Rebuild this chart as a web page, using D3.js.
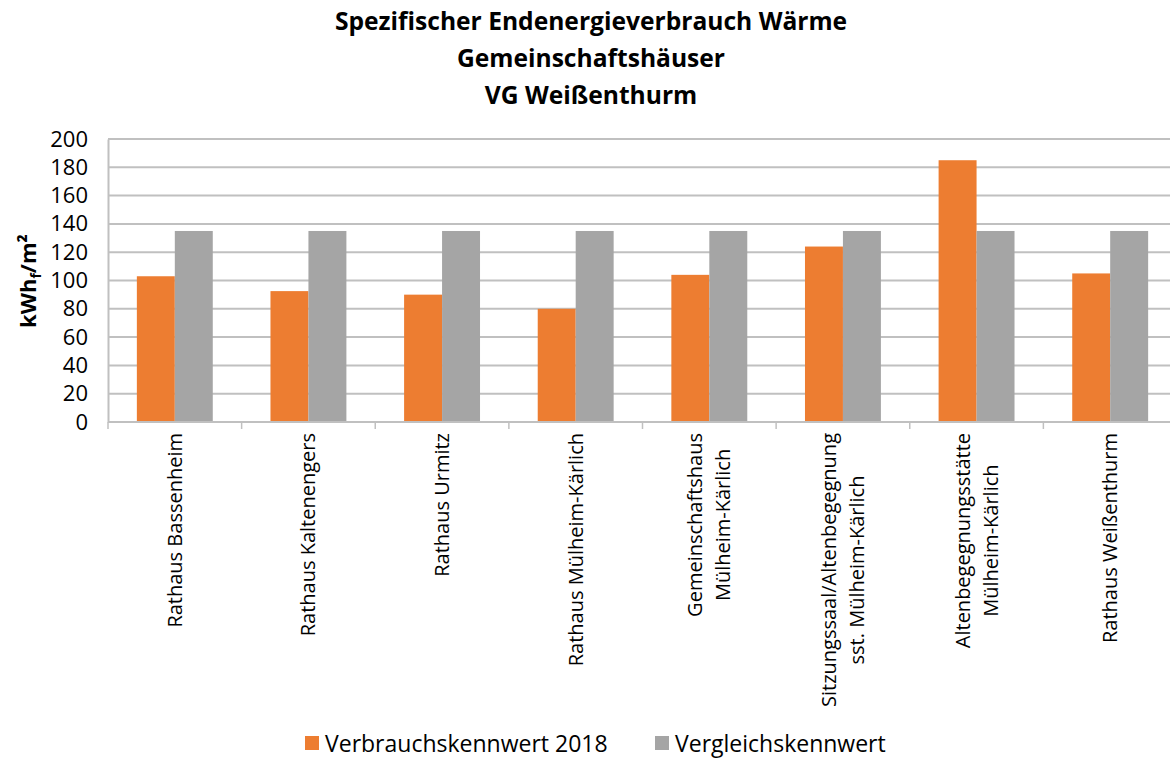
<!DOCTYPE html>
<html>
<head>
<meta charset="utf-8">
<title>Endenergieverbrauch Wärme</title>
<script src="https://cdn.jsdelivr.net/npm/d3@7"></script>
<style>
  body { margin: 0; background: #fff; }
  svg { font-family: "Open Sans", "DejaVu Sans", sans-serif; }
  .grid line { stroke: #c0c0c0; stroke-width: 2; }
  .title { font-weight: bold; font-size: 24.6px; }
</style>
</head>
<body>
<div id="chart"></div>
<script>
// data
var categories = [
  ['Rathaus Bassenheim'],
  ['Rathaus Kaltenengers'],
  ['Rathaus Urmitz'],
  ['Rathaus Mülheim-Kärlich'],
  ['Gemeinschaftshaus', 'Mülheim-Kärlich'],
  ['Sitzungssaal/Altenbegegnung', 'sst. Mülheim-Kärlich'],
  ['Altenbegegnungsstätte', 'Mülheim-Kärlich'],
  ['Rathaus Weißenthurm']
];
var verbrauch2018 = [103, 92.5, 90, 80, 104, 124, 185, 105];
var vergleich = [135, 135, 135, 135, 135, 135, 135, 135];
var seriesNames = ['Verbrauchskennwert 2018', 'Vergleichskennwert'];
var seriesColors = ['#ED7D31', '#A5A5A5'];
var yTicks = [0, 20, 40, 60, 80, 100, 120, 140, 160, 180, 200];
var titleLines = ['Spezifischer Endenergieverbrauch Wärme', 'Gemeinschaftshäuser', 'VG Weißenthurm'];

var width = 1170, height = 758;
var plotLeft = 108, plotRight = 1177, plotTop = 139, plotBottom = 422;

var svg = d3.select('#chart').append('svg')
  .attr('width', width)
  .attr('height', height);

var x = d3.scaleBand()
  .domain(d3.range(categories.length))
  .range([plotLeft, plotRight])
  .paddingInner(0)
  .paddingOuter(0);

var inner = d3.scaleBand()
  .domain([0, 1])
  .range([0, x.bandwidth()])
  .paddingOuter(0.76)
  .paddingInner(0);

var y = d3.scaleLinear().domain([0, 200]).range([plotBottom, plotTop]);

// title
svg.append('g').selectAll('text')
  .data(titleLines)
  .enter().append('text')
  .attr('class', 'title')
  .attr('x', 591)
  .attr('y', function(d, i) { return 30 + i * 37; })
  .attr('text-anchor', 'middle')
  .text(function(d) { return d; });

// gridlines
svg.append('g')
  .attr('class', 'grid')
  .selectAll('line')
  .data(yTicks.slice(1))
  .enter().append('line')
  .attr('x1', plotLeft).attr('x2', width)
  .attr('y1', function(d) { return y(d); })
  .attr('y2', function(d) { return y(d); });

// y axis
var yAxis = svg.append('g')
  .attr('transform', 'translate(' + plotLeft + ',0)')
  .call(d3.axisLeft(y).tickValues(yTicks).tickSize(0).tickPadding(20));
yAxis.select('.domain').attr('stroke', '#c0c0c0').attr('stroke-width', 2);
yAxis.selectAll('text')
  .attr('font-size', 22)
  .attr('font-family', '"Open Sans", sans-serif')
  .attr('fill', '#000');

var ylab = svg.append('text')
  .attr('transform', 'translate(36,281) rotate(-90)')
  .attr('text-anchor', 'middle')
  .attr('font-weight', 'bold')
  .attr('font-size', 22);
ylab.append('tspan').text('kWh');
ylab.append('tspan').attr('font-size', 14).attr('dy', 5).text('f');
ylab.append('tspan').attr('dy', -5).text('/m²');

// bars
var series = [verbrauch2018, vergleich];
series.forEach(function(vals, s) {
  svg.append('g').selectAll('rect')
    .data(vals)
    .enter().append('rect')
    .attr('x', function(d, i) { return x(i) + inner(s); })
    .attr('width', inner.bandwidth())
    .attr('y', function(d) { return y(d); })
    .attr('height', function(d) { return y(0) - y(d); })
    .attr('fill', seriesColors[s]);
});

// x axis
var xAxis = svg.append('g')
  .attr('transform', 'translate(0,' + plotBottom + ')');
xAxis.append('line')
  .attr('x1', plotLeft).attr('x2', width)
  .attr('stroke', '#c0c0c0').attr('stroke-width', 2);
xAxis.selectAll('.tick')
  .data(d3.range(categories.length + 1))
  .enter().append('line')
  .attr('x1', function(d) { return plotLeft + d * x.step(); })
  .attr('x2', function(d) { return plotLeft + d * x.step(); })
  .attr('y1', 0).attr('y2', 7)
  .attr('stroke', '#c0c0c0').attr('stroke-width', 1.5);

var lab = xAxis.selectAll('.lab')
  .data(categories)
  .enter().append('text')
  .attr('class', 'lab')
  .attr('font-size', 20)
  .attr('text-anchor', 'end')
  .attr('transform', function(d, i) {
    var cx = x(i) + x.bandwidth() / 2;
    return 'translate(' + cx + ',11) rotate(-90)';
  });
lab.selectAll('tspan')
  .data(function(d) { return d; })
  .enter().append('tspan')
  .attr('x', 0)
  .attr('y', function(d, j, n) {
    var nl = n.length;
    return 7 + (j - (nl - 1) / 2) * 28;
  })
  .text(function(d) { return d; });
// multi-line labels: lines centred on the longest one
lab.each(function(d) {
  if (d.length > 1) {
    var t = d3.select(this);
    var widths = [];
    t.selectAll('tspan').each(function() { widths.push(this.getComputedTextLength()); });
    var maxW = d3.max(widths);
    t.attr('text-anchor', 'middle');
    t.selectAll('tspan').attr('x', -maxW / 2);
  }
});

// legend
var legend = svg.append('g');
var legX = [305, 655];
seriesNames.forEach(function(name, s) {
  legend.append('rect')
    .attr('x', legX[s]).attr('y', 736)
    .attr('width', 14).attr('height', 14)
    .attr('fill', seriesColors[s]);
  legend.append('text')
    .attr('x', legX[s] + 20).attr('y', 752)
    .attr('font-size', 23)
    .text(name);
});
</script>
</body>
</html>
